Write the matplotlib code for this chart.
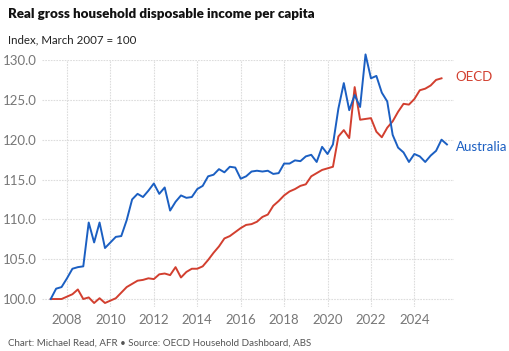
import numpy as np
import matplotlib
matplotlib.use("Agg")
import matplotlib.pyplot as plt

plt.rcParams["font.family"] = ["Lato", "DejaVu Sans"]

# quarterly index, March 2007 = 100
START_YEAR = 2007.25
australia = [
    100.0, 101.3, 101.5, 102.6, 103.8, 104.0, 104.1, 109.6, 107.1, 109.6,
    106.4, 107.1, 107.8, 107.9, 109.9, 112.5, 113.2, 112.8, 113.6, 114.5,
    113.2, 114.0, 111.1, 112.2, 113.0, 112.7, 112.8, 113.8, 114.2, 115.4,
    115.6, 116.3, 115.9, 116.6, 116.5, 115.1, 115.4, 116.0, 116.1, 116.0,
    116.1, 115.7, 115.8, 117.0, 117.0, 117.4, 117.3, 117.9, 118.1, 117.2,
    119.1, 118.2, 119.4, 123.9, 127.1, 123.7, 125.6, 124.1, 130.7, 127.7,
    128.0, 125.9, 124.8, 120.6, 119.0, 118.4, 117.2, 118.2, 117.9, 117.2,
    118.0, 118.6, 120.0, 119.4,
]
oecd = [
    100.0, 100.0, 100.0, 100.3, 100.6, 101.2, 100.0, 100.2, 99.5, 100.1,
    99.5, 99.8, 100.1, 100.8, 101.5, 101.9, 102.3, 102.4, 102.6, 102.5,
    103.1, 103.2, 103.0, 104.0, 102.7, 103.4, 103.8, 103.8, 104.1, 104.9,
    105.8, 106.6, 107.6, 107.9, 108.4, 108.9, 109.3, 109.4, 109.7, 110.3,
    110.6, 111.7, 112.3, 113.0, 113.5, 113.8, 114.2, 114.4, 115.4, 115.8,
    116.2, 116.4, 116.6, 120.4, 121.2, 120.2, 126.6, 122.5, 122.6, 122.7,
    121.0, 120.3, 121.5, 122.3, 123.5, 124.5, 124.4, 125.1, 126.2, 126.4,
    126.8, 127.5, 127.7,
]
x_ticks = list(range(2008, 2025, 2))
y_ticks = [100, 105, 110, 115, 120, 125, 130]

RED = "#d23f2f"
BLUE = "#1b5fc2"
GREY = "#777777"

x_aus = START_YEAR + 0.25 * np.arange(len(australia))
x_oecd = START_YEAR + 0.25 * np.arange(len(oecd))

fig = plt.figure(figsize=(5.1, 3.51), dpi=100)
ax = fig.add_axes([0.0824, 0.1254, 0.808, 0.7037])

ax.plot(x_oecd, oecd, color=RED, lw=1.4, clip_on=False, zorder=3)
ax.plot(x_aus, australia, color=BLUE, lw=1.4, clip_on=False, zorder=4)

ax.set_xlim(2006.85, 2025.83)
ax.set_ylim(99, 130)
ax.set_xticks(x_ticks)
ax.set_yticks(y_ticks)
ax.set_yticklabels([f"{v:.1f}" for v in y_ticks])
ax.tick_params(length=0, labelsize=9.5, labelcolor=GREY, pad=4)
ax.tick_params(axis="x", pad=5)
ax.grid(True, color="#dddddd", lw=0.8, ls=(0, (1.5, 1)))
for s in ax.spines.values():
    s.set_visible(False)

ax.text(2025.9, oecd[-1] + 0.2, "OECD", color=RED, fontsize=9.5, va="center", ha="left")
ax.text(2025.9, 119.1, "Australia", color=BLUE, fontsize=9.5, va="center", ha="left")

fig.text(8 / 510, 1 - 14 / 351, "Real gross household disposable income per capita",
         fontsize=9.6, fontweight="heavy", color="#111111", va="center", ha="left")
fig.text(8 / 510, 1 - 40 / 351, "Index, March 2007 = 100",
         fontsize=8.3, color="#222222", va="center", ha="left")
fig.text(8 / 510, 1 - 343 / 351,
         "Chart: Michael Read, AFR \u2022 Source: OECD Household Dashboard, ABS",
         fontsize=7, color="#555555", va="center", ha="left")

fig.savefig("out.png", dpi=100, facecolor="white")
